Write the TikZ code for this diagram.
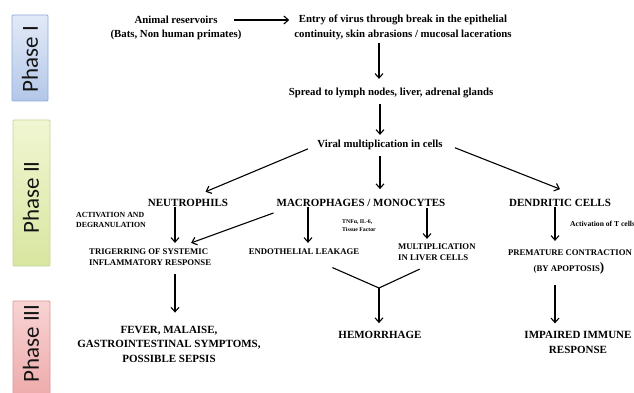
\documentclass[tikz,border=0pt]{standalone}
\usepackage{fontspec}
\setmainfont{Liberation Serif}
\newfontfamily\phasefont{Carlito}
\usetikzlibrary{arrows.meta}
\definecolor{pIa}{HTML}{E2EAF7}
\definecolor{pIb}{HTML}{B3C7E8}
\definecolor{pIe}{HTML}{8FAADC}
\definecolor{pIIa}{HTML}{F1F6D2}
\definecolor{pIIb}{HTML}{D8E6A0}
\definecolor{pIIe}{HTML}{C4D79B}
\definecolor{pIIIa}{HTML}{F8D3D3}
\definecolor{pIIIb}{HTML}{EEA9A9}
\definecolor{pIIIe}{HTML}{D99694}
\begin{document}
\begin{tikzpicture}[x=1pt,y=-1pt,
  txt/.style={inner sep=0pt, align=center, font=\bfseries\fontsize{10.8}{15}\selectfont},
  lvtwo/.style={inner sep=0pt, align=center, font=\bfseries\fontsize{11}{13}\selectfont},
  lvthree/.style={inner sep=0pt, align=left, font=\bfseries\fontsize{8.7}{11}\selectfont},
  lvfour/.style={inner sep=0pt, align=center, font=\bfseries\fontsize{11}{14.5}\selectfont},
  note/.style={inner sep=0pt, align=left, font=\bfseries\fontsize{7.8}{10}\selectfont},
  tinynote/.style={inner sep=0pt, align=left, font=\bfseries\fontsize{5.8}{7.5}\selectfont},
  arr/.style={-{Straight Barb[length=4.5pt,width=8pt]}, line width=1.1pt},
  ln/.style={line width=1.1pt},
  phasebox/.style={draw, line width=0.8pt, rounded corners=1pt, inner sep=0pt},
  phasetxt/.style={rotate=90, inner sep=0pt, font=\phasefont\fontsize{23}{23}\selectfont, text=black!92}
]
\useasboundingbox (0,0) rectangle (634,393);
\fill[white] (0,0) rectangle (634,393);

% phase boxes
\node[phasebox, draw=pIe, top color=pIa, bottom color=pIb, minimum width=36pt, minimum height=86pt] (p1box) at (30,58) {};
\node[phasebox, draw=pIIe, top color=pIIa, bottom color=pIIb, minimum width=37pt, minimum height=146pt] (p2box) at (31.5,193) {};
\node[phasebox, draw=pIIIe, top color=pIIIa, bottom color=pIIIb, minimum width=37pt, minimum height=99pt] (p3box) at (31.5,350.5) {};
\node[phasetxt] (p1) at (30,59) {Phase I};
\node[phasetxt] (p2) at (31,197.5) {Phase II};
\node[phasetxt] (p3) at (31,343.5) {Phase III};

% texts
\node[txt] (animal) at (176,20) {Animal reservoirs};
\node[txt] (animalb) at (176,35) {(Bats, Non human primates)};
\node[txt] (entry) at (403,27.5) {Entry of virus through break in the epithelial\\continuity, skin abrasions / mucosal lacerations};
\node[txt] (spread) at (391,93) {Spread to lymph nodes, liver, adrenal glands};
\node[txt] (viral) at (380,145) {Viral multiplication in cells};
\node[lvtwo] (neut) at (188,203) {NEUTROPHILS};
\node[lvtwo] (macro) at (361,203) {MACROPHAGES / MONOCYTES};
\node[lvtwo] (dend) at (560,203) {DENDRITIC CELLS};
\node[note, anchor=west] (act) at (76,220) {ACTIVATION AND\\DEGRANULATION};
\node[tinynote, anchor=west] (tnf) at (342,225.5) {TNFα, IL-6,\\Tissue Factor};
\node[note, font=\bfseries\fontsize{7.6}{9}\selectfont, anchor=west] (actT) at (570,224) {Activation of T cells};
\node[lvthree, anchor=west] (trig) at (89,257.5) {TRIGERRING OF SYSTEMIC\\INFLAMMATORY RESPONSE};
\node[lvthree] (endo) at (304,252) {ENDOTHELIAL LEAKAGE};
\node[lvthree, anchor=west] (mult) at (398,252.5) {MULTIPLICATION\\IN LIVER CELLS};
\node[lvthree] (prem) at (570,253) {PREMATURE CONTRACTION};
\node[lvthree] (apop) at (569,268) {(BY APOPTOSIS{\fontsize{13}{13}\selectfont)}};
\node[lvfour] (fever) at (169,344) {FEVER, MALAISE,\\GASTROINTESTINAL SYMPTOMS,\\POSSIBLE SEPSIS};
\node[lvfour] (hem) at (380,335) {HEMORRHAGE};
\node[lvfour] (imp) at (578,342.5) {IMPAIRED IMMUNE\\RESPONSE};

% helper coordinates for vertical arrow columns
\coordinate (j) at (379,288);
\coordinate (cv) at (380,0);
\coordinate (cn) at (175,0);
\coordinate (cm) at (308,0);
\coordinate (cl) at (427,0);
\coordinate (cd) at (555,0);

% connectors
\draw[arr, shorten <=16pt, shorten >=5pt] (animal.east) -- (entry.west |- animal.east);
\draw[arr, shorten <=3pt, shorten >=9pt] (entry.south -| j) -- (spread.north -| j);
\draw[arr, shorten <=6pt, shorten >=5pt] (spread.south -| cv) -- (viral.north -| cv);
\draw[arr, shorten <=10pt, shorten >=19pt] (viral.west) -- (neut.north);
\draw[arr, shorten <=6pt, shorten >=10pt] (viral.south -| cv) -- (macro.north -| cv);
\draw[arr, shorten <=13pt] ([yshift=2pt]viral.east) -- ([yshift=10pt]dend.north);
\draw[arr, shorten >=6pt] (neut.south -| cn) -- (trig.north -| cn);
\draw[arr] ([shift={(-3,10)}]macro.west) -- ([shift={(41,-6)}]trig.north);
\draw[arr, shorten >=6pt] (macro.south -| cm) -- (endo.north -| cm);
\draw[arr, shorten <=1pt, shorten >=5pt] (macro.south -| cl) -- (mult.north -| cl);
\draw[arr, shorten >=9pt] (dend.south -| cd) -- (prem.north -| cd);
\draw[arr, shorten <=8pt, shorten >=13pt] (trig.south -| cn) -- (fever.north -| cn);
\draw[ln, shorten <=31pt] (endo.south) -- (j);
\draw[ln, shorten <=19pt] (mult.south) -- (j);
\draw[arr, shorten >=8pt] (j) -- (hem.north -| j);
\draw[arr, shorten <=11pt, shorten >=8pt] (apop.south -| cd) -- (imp.north -| cd);
\end{tikzpicture}
\end{document}
